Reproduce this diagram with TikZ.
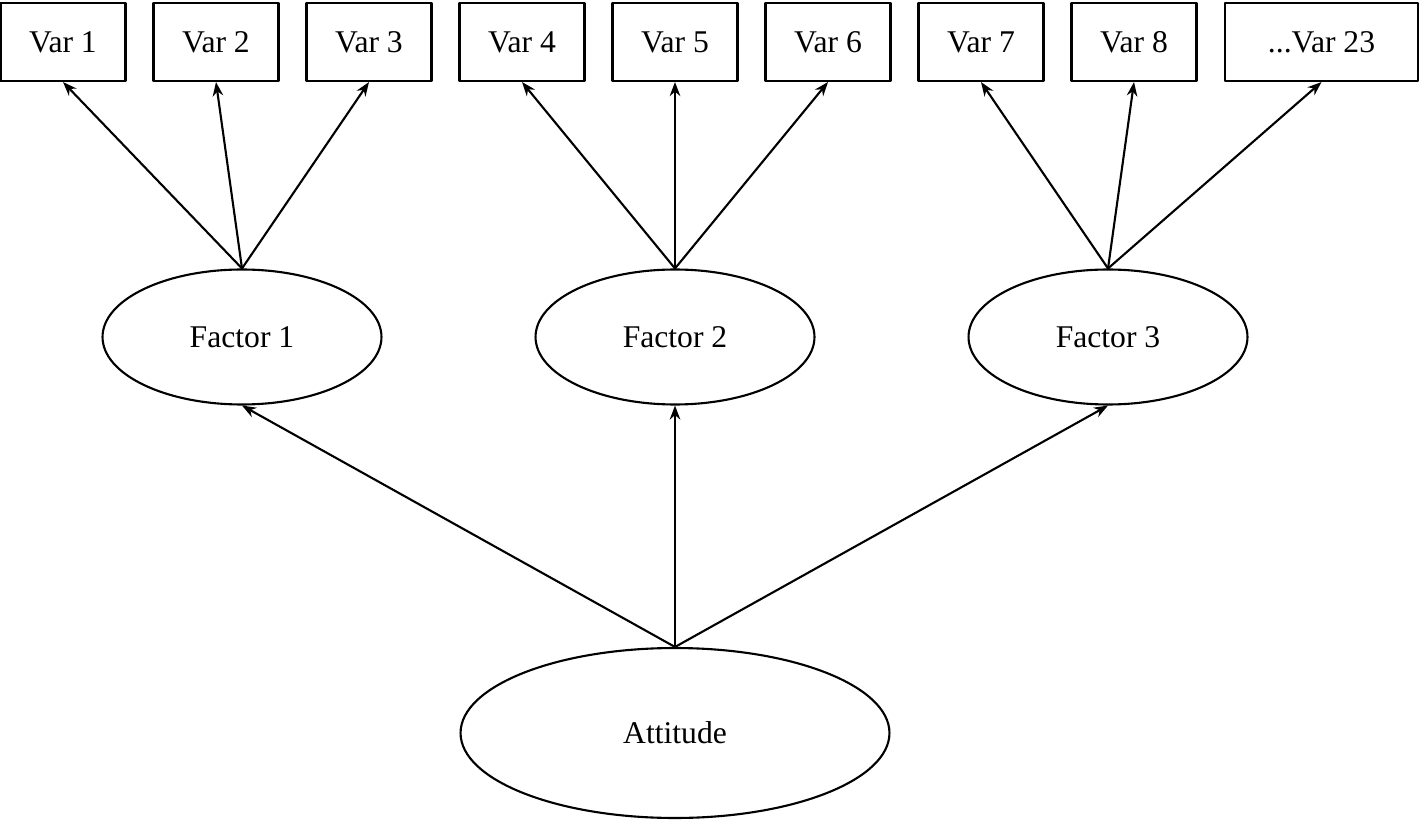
\documentclass[tikz,border=0pt]{standalone}
\usepackage{fontspec}
\setmainfont{Liberation Serif}
\usetikzlibrary{arrows.meta,shapes.geometric}
\begin{document}
\begin{tikzpicture}[x=0.02cm,y=-0.02cm,font=\fontsize{18}{21}\selectfont,line width=1.2pt,line cap=round,line join=round,>={Stealth[length=8pt,width=6pt]},
  varbox/.style={draw,rectangle,inner sep=0pt,minimum width=2.5cm,minimum height=1.56cm},
  factor/.style={draw,ellipse,inner sep=0pt,minimum width=5.58cm,minimum height=2.7cm}]
\useasboundingbox (0,0) rectangle (1422,820);
\foreach \i in {1,...,8}
  \node[varbox] (v\i) at ({63+153*(\i-1)},42) {Var \i};
\node[varbox,minimum width=3.86cm] (v9) at (1321.5,42) {...Var 23};
\node[factor] (f1) at (242,337) {Factor 1};
\node[factor] (f2) at (675,337) {Factor 2};
\node[factor] (f3) at (1108,337) {Factor 3};
\node[factor,minimum width=8.58cm,minimum height=3.4cm] (att) at (675,733) {Attitude};
\foreach \f/\a/\b/\c in {f1/v1/v2/v3,f2/v4/v5/v6,f3/v7/v8/v9}{
  \draw[->] (\f.north) -- (\a.south);
  \draw[->] (\f.north) -- (\b.south);
  \draw[->] (\f.north) -- (\c.south);
}
\foreach \f in {f1,f2,f3}
  \draw[->] (att.north) -- (\f.south);
\end{tikzpicture}
\end{document}
